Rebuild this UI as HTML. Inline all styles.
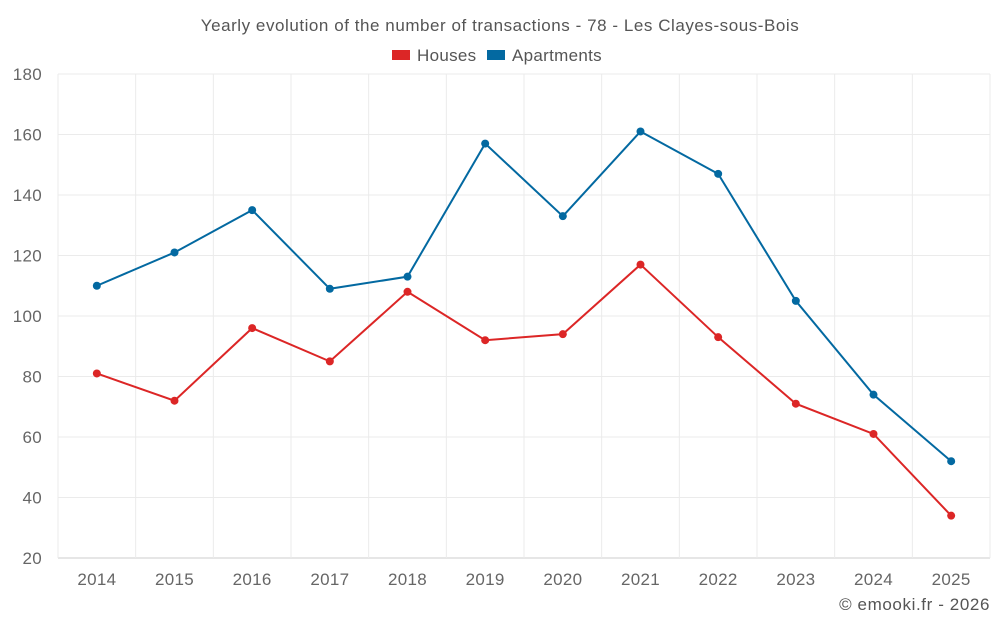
<!DOCTYPE html>
<html><head><meta charset="utf-8"><style>
body{margin:0;background:#fff;font-family:"Liberation Sans",sans-serif;}
svg text{font-family:"Liberation Sans",sans-serif;}
</style></head><body>
<svg id="chart" width="1000" height="625" xmlns="http://www.w3.org/2000/svg">
<text x="500" y="31" text-anchor="middle" font-size="17" letter-spacing="0.55" fill="#555">Yearly evolution of the number of transactions - 78 - Les Clayes-sous-Bois</text>
<g>
<g><rect x="392" y="50" width="18" height="10" fill="#dc2626"/><text x="417" y="61" font-size="17" letter-spacing="0.3" fill="#555">Houses</text></g>
<g><rect x="487" y="50" width="18" height="10" fill="#0369a1"/><text x="512" y="61" font-size="17" letter-spacing="0.3" fill="#555">Apartments</text></g>
</g>
<g id="grid"></g><g id="axes"></g><g id="series"></g>
<text x="990" y="610" text-anchor="end" font-size="17" letter-spacing="0.6" fill="#555">© emooki.fr - 2026</text>
</svg>
<script>
const years=["2014","2015","2016","2017","2018","2019","2020","2021","2022","2023","2024","2025"];
const houses=[81,72,96,85,108,92,94,117,93,71,61,34];
const apartments=[110,121,135,109,113,157,133,161,147,105,74,52];
const yTicks=[20,40,60,80,100,120,140,160,180];
const L=58,R=990,T=74,B=558,yMin=20,yMax=180;
const NS="http://www.w3.org/2000/svg";
const bw=(R-L)/years.length;
function x(i){return L+bw*(i+0.5);}
function y(v){return B-(v-yMin)/(yMax-yMin)*(B-T);}
function mk(tag,attrs,parent){const e=document.createElementNS(NS,tag);for(const k in attrs)e.setAttribute(k,attrs[k]);parent.appendChild(e);return e;}
const grid=document.getElementById('grid'),axes=document.getElementById('axes'),ser=document.getElementById('series');
yTicks.forEach(t=>{
 const l=mk('line',{x1:L,x2:R,y1:y(t),y2:y(t),stroke:t===yMin?'#ccc':'#ebebeb','stroke-width':1},grid);
 
 
 const tx=mk('text',{x:L-16,y:y(t)+6,'text-anchor':'end','font-size':17,'letter-spacing':0.3,fill:'#666'},axes);
 tx.textContent=t;
 
 
});
for(let i=0;i<=years.length;i++){
 const l=mk('line',{x1:L+bw*i,x2:L+bw*i,y1:T,y2:B,stroke:'#ebebeb','stroke-width':1},grid);
 
 
}
years.forEach((yr,i)=>{
 const tx=mk('text',{x:x(i),y:585,'text-anchor':'middle','font-size':17,'letter-spacing':0.3,fill:'#666'},axes);
 tx.textContent=yr;
 
 
});
function draw(vals,color,name){
 const p=mk('polyline',{points:vals.map((v,i)=>x(i)+','+y(v)).join(' '),fill:'none',stroke:color,'stroke-width':2},ser);
 
 
 vals.forEach((v,i)=>{
  const c=mk('circle',{cx:x(i),cy:y(v),r:4,fill:color},ser);
  
  
 });
}
draw(houses,'#dc2626','houses');
draw(apartments,'#0369a1','apartments');
</script>
</body></html>
